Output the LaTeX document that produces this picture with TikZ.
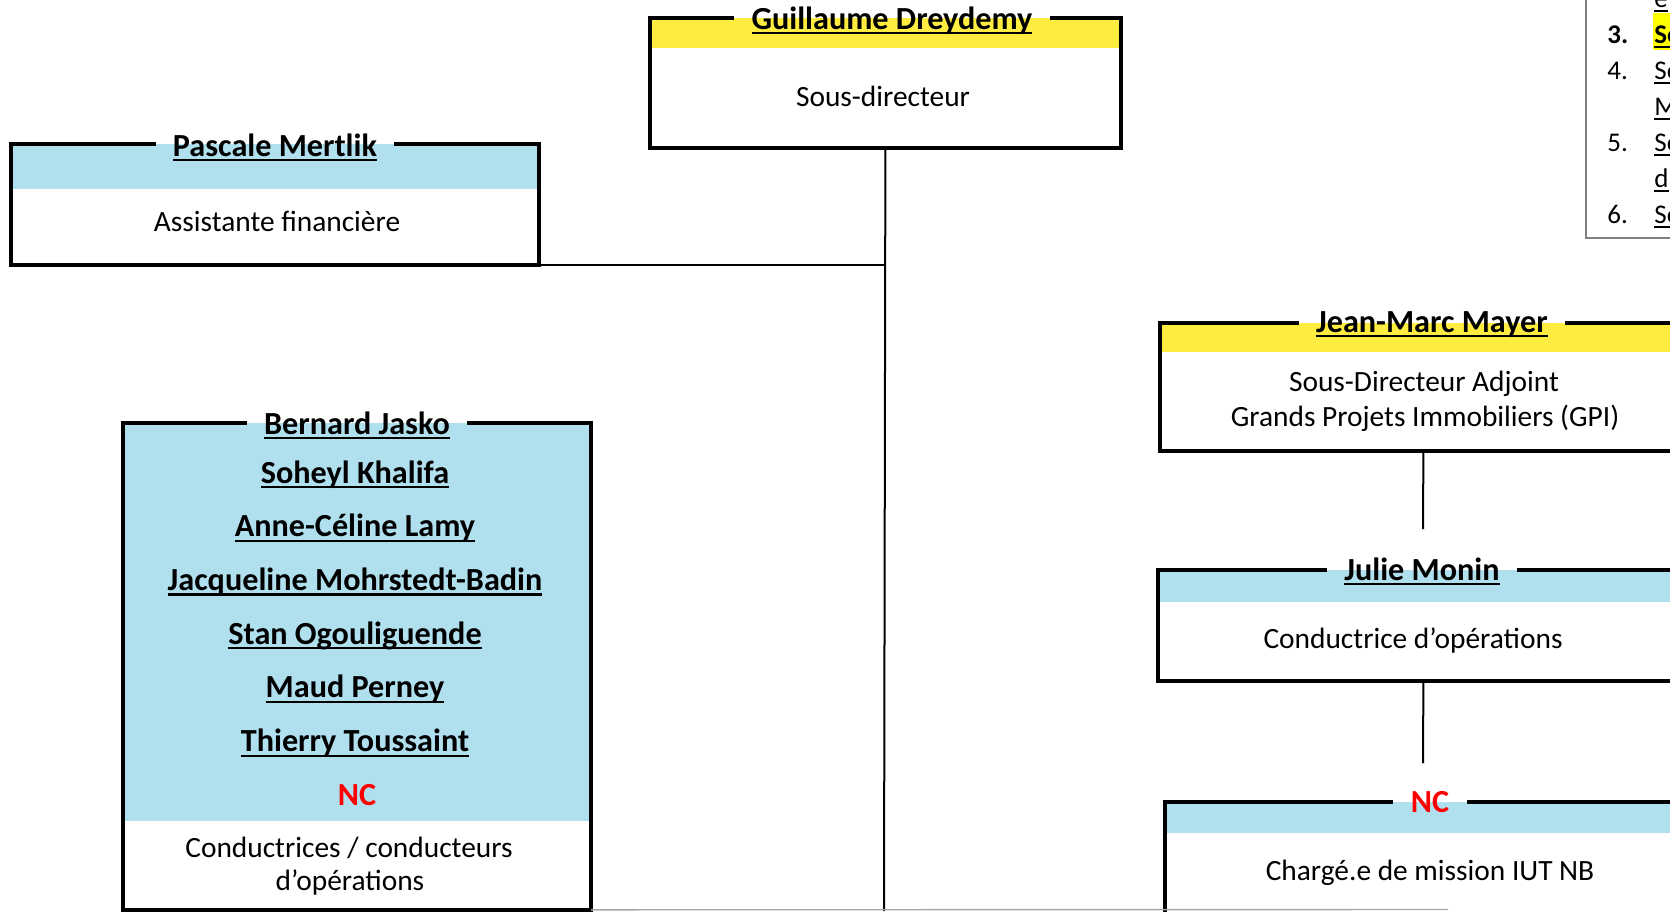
\documentclass[tikz,border=0pt]{standalone}
\usepackage{fontspec}
\setmainfont{Carlito}
\usepackage{tikz}
\definecolor{bandyellow}{RGB}{255,236,64}
\definecolor{bandblue}{RGB}{176,223,238}
\definecolor{ncred}{RGB}{255,0,0}
\definecolor{hlyellow}{RGB}{255,255,0}
\definecolor{listgray}{RGB}{128,128,128}
\newsavebox{\namebox}
\newcommand{\uname}[1]{\sbox{\namebox}{#1}\rlap{\rule[-2.6pt]{\wd\namebox}{1.1pt}}\usebox{\namebox}}

\begin{document}
\begin{tikzpicture}[x=0.5pt,y=-0.5pt,line join=miter,
  frame/.style={inner sep=0pt,anchor=north west},
  head/.style={font=\fontsize{16.1}{19}\selectfont\bfseries,inner xsep=8.5pt,inner ysep=0pt,anchor=base},
  role/.style={font=\fontsize{14.7}{17.6}\selectfont,inner sep=0pt,anchor=base},
  border/.style={line width=1.8pt},
  link/.style={line width=1pt},
  item/.style={font=\fontsize{13.5}{16}\selectfont,inner sep=0pt,anchor=base west}]
  \useasboundingbox (0,0) rectangle (1670,911);
  \clip (0,0) rectangle (1670,911);
  % frames are placed by their top left corner, sizes in pt (= px/2)
  \node[frame,minimum width=235pt,minimum height=64.5pt] (gd) at (650,18) {};
  \fill[bandyellow] (gd.north west) rectangle ([yshift=-15pt]gd.north east);
  \node[head] (gd-t) at (892,29) {\uname{Guillaume Dreydemy}};
  \draw[border] (gd-t.west |- gd.north) -| (gd.south west) -| (gd.north east) -- (gd-t.east |- gd.north);
  \node[role] (gd-r) at (883,106) {Sous-directeur};

  \node[frame,minimum width=263.5pt,minimum height=60pt] (pm) at (11,144) {};
  \fill[bandblue] (pm.north west) rectangle ([yshift=-22.5pt]pm.north east);
  \node[head] (pm-t) at (275,156) {\uname{Pascale Mertlik}};
  \draw[border] (pm-t.west |- pm.north) -| (pm.south west) -| (pm.north east) -- (pm-t.east |- pm.north);
  \node[role] (pm-r) at (277,231) {Assistante financière};

  \node[frame,minimum width=233.5pt,minimum height=243pt] (bj) at (123,423) {};
  \fill[bandblue] (bj.north west) rectangle ([yshift=-199pt]bj.north east);
  \node[head] (bj-t) at (357,434) {\uname{Bernard Jasko}};
  \draw[border] (bj-t.west |- bj.north) -| (bj.south west) -| (bj.north east) -- (bj-t.east |- bj.north);
  \foreach \who [count=\k] in {Soheyl Khalifa,Anne-Céline Lamy,Jacqueline Mohrstedt-Badin,
      Stan Ogouliguende,Maud Perney,Thierry Toussaint}{
    \pgfmathsetmacro{\y}{483+53.7*(\k-1)}
    \node[head] (bj-\k) at (355,\y) {\uname{\who}};
  }
  \node[head,text=ncred] (bj-nc) at (357,805) {NC};
  \node[role] (bj-r1) at (349,857) {Conductrices / conducteurs};
  \node[role] (bj-r2) at (350,890) {d’opérations};

  \node[frame,minimum width=263pt,minimum height=63.5pt] (jm) at (1160,323) {};
  \fill[bandyellow] (jm.north west) rectangle ([yshift=-14.5pt]jm.north east);
  \node[head] (jm-t) at (1432,332) {\uname{Jean-Marc Mayer}};
  \draw[border] (jm-t.west |- jm.north) -| (jm.south west) -| (jm.north east) -- (jm-t.east |- jm.north);
  \node[role] (jm-r1) at (1424,391) {Sous-Directeur Adjoint};
  \node[role] (jm-r2) at (1425,426) {Grands Projets Immobiliers (GPI)};

  \node[frame,minimum width=265pt,minimum height=55pt] (jmo) at (1158,570) {};
  \fill[bandblue] (jmo.north west) rectangle ([yshift=-16pt]jmo.north east);
  \node[head] (jmo-t) at (1422,580) {\uname{Julie Monin}};
  \draw[border] (jmo-t.west |- jmo.north) -| (jmo.south west) -| (jmo.north east) -- (jmo-t.east |- jmo.north);
  \node[role] (jmo-r) at (1413,648) {Conductrice d’opérations};

  \node[frame,minimum width=265pt,minimum height=100pt] (nc) at (1165,802) {};
  \fill[bandblue] (nc.north west) rectangle ([yshift=-15.5pt]nc.north east);
  \node[head,text=ncred] (nc-t) at (1430,812) {NC};
  \draw[border] (nc-t.west |- nc.north) -| (nc.south west) -| (nc.north east) -- (nc-t.east |- nc.north);
  \node[role] (nc-r) at (1430,880) {Chargé.e de mission IUT NB};

  % links
  \coordinate (bot) at (884,911);
  \coordinate (jmo-in) at (1423,529);
  \coordinate (nc-in) at (1423,763);
  \coordinate (edge) at (1448,909.5);
  \draw[link] (gd.south) -- (bot);
  \draw[link] (pm.south east) -- (pm.south east -| gd.south);
  \draw[link] (jm.south) -- (jmo-in);
  \draw[link] (jmo.south) -- (nc-in);
  \draw[listgray!70,line width=0.7pt] (bj.south east) -- (edge);

  % list in the top right corner
  \draw[listgray,line width=0.8pt] (1586,-5) |- (1680,238);
  \fill[hlyellow] (1653,13) rectangle (1680,50);
  \node[item] (l2b) at (1654,7) {\uname{e}};
  \node[item,font=\fontsize{13.5}{16}\selectfont\bfseries] (n3) at (1607,43) {3.};
  \node[item,font=\fontsize{13.5}{16}\selectfont\bfseries] (l3) at (1654,43) {\uname{So}};
  \node[item] (n4) at (1607,79) {4.};
  \node[item] (l4) at (1654,79) {\uname{So}};
  \node[item] (l4b) at (1654,115) {\uname{M}};
  \node[item] (n5) at (1607,151) {5.};
  \node[item] (l5) at (1654,151) {\uname{So}};
  \node[item] (l5b) at (1654,187) {\uname{d}};
  \node[item] (n6) at (1607,223) {6.};
  \node[item] (l6) at (1654,223) {\uname{So}};
\end{tikzpicture}
\end{document}
